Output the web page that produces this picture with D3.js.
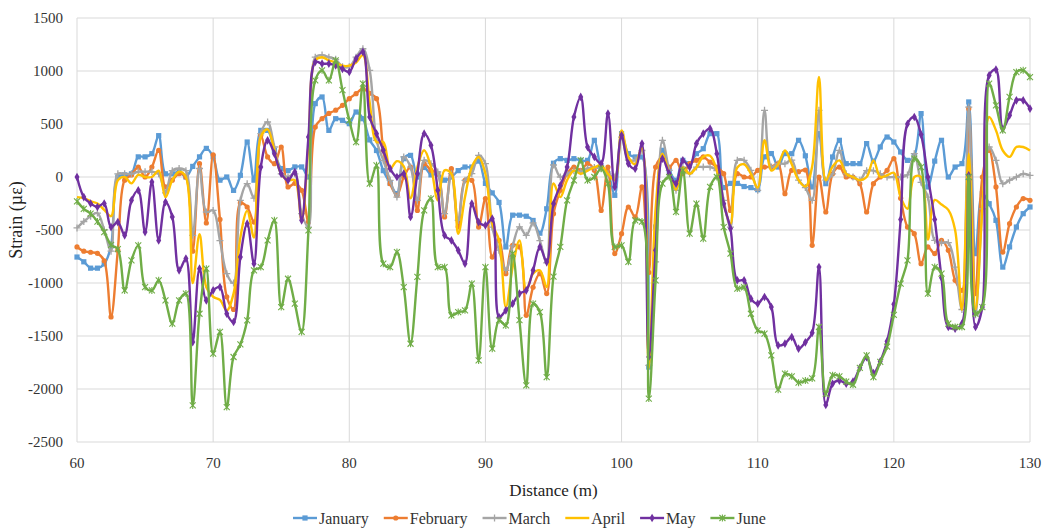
<!DOCTYPE html>
<html>
<head>
<meta charset="utf-8">
<script src="https://cdn.jsdelivr.net/npm/d3@7"></script>
<style>
  body { margin: 0; background: #fff; }
  svg text { font-family: "Liberation Serif", "Times New Roman", Times, "DejaVu Serif", "Noto Serif", serif; }
</style>
</head>
<body>
<div id="chart"></div>
<script>
// --- DATA (0.5 m spacing) ---
const distance = [
  60, 60.5, 61, 61.5, 62, 62.5, 63, 63.5, 64, 64.5,
  65, 65.5, 66, 66.5, 67, 67.5, 68, 68.5, 69, 69.5,
  70, 70.5, 71, 71.5, 72, 72.5, 73, 73.5, 74, 74.5,
  75, 75.5, 76, 76.5, 77, 77.5, 78, 78.5, 79, 79.5,
  80, 80.5, 81, 81.5, 82, 82.5, 83, 83.5, 84, 84.5,
  85, 85.5, 86, 86.5, 87, 87.5, 88, 88.5, 89, 89.5,
  90, 90.5, 91, 91.5, 92, 92.5, 93, 93.5, 94, 94.5,
  95, 95.5, 96, 96.5, 97, 97.5, 98, 98.5, 99, 99.5,
  100, 100.5, 101, 101.5, 102, 102.5, 103, 103.5, 104, 104.5,
  105, 105.5, 106, 106.5, 107, 107.5, 108, 108.5, 109, 109.5,
  110, 110.5, 111, 111.5, 112, 112.5, 113, 113.5, 114, 114.5,
  115, 115.5, 116, 116.5, 117, 117.5, 118, 118.5, 119, 119.5,
  120, 120.5, 121, 121.5, 122, 122.5, 123, 123.5, 124, 124.5,
  125, 125.5, 126, 126.5, 127, 127.5, 128, 128.5, 129, 129.5,
  130
];

const january = [
  -755, -800, -860, -860, -820, -650, 0, 20, 30, 190,
  190, 220, 390, 30, 30, 50, 0, 100, 190, 270,
  190, -30, 0, -126, 16, 330, -30, 440, 440, 250,
  80, 60, 95, 95, 0, 692, 755, 440, 550, 535,
  503, 613, 550, 350, 250, 60, -60, -157, 173, 204,
  0, 90, 20, 30, -30, 0, 60, 94, 94, 150,
  -60, -150, -240, -660, -360, -360, -370, -410, -530, -300,
  130, 173, 157, 173, 157, 157, 346, 94, 31, -173,
  409, 220, 189, 189, -1793, -472, 252, 63, -31, 157,
  126, 220, 267, 409, 409, -100, -60, -60, -90, -100,
  -120, 190, 221, 94, 221, 220, 346, 200, -94, 409,
  -63, 189, 346, 126, 126, 126, 315, 150, 283, 377,
  330, 236, 157, 200, 598, -94, 150, 346, 0, 94,
  126, 708, -723, -157, -252, -409, -850, -660, -472, -346,
  -283
];

const february = [
  -660, -700, -710, -720, -790, -1320, -690, -30, 20, 94,
  0, 94, 252, -94, -30, 31, 0, -700, 126, -434,
  210, -400, -1130, -1250, -245, -283, -425, 393, 189, 126,
  283, -94, -60, -126, -425, 471, 550, 600, 630, 676,
  739, 786, 833, 790, 739, 252, -63, -173, 0, 94,
  -315, 126, 63, 30, -377, 79, -470, -31, -31, -472,
  -204, -755, -598, -912, -645, -660, -1305, -1040, -912, -1100,
  -346, -126, 31, 94, 63, 126, 63, -315, 94, -723,
  -535, -283, -377, -94, -900, 94, 189, 94, 157, 31,
  126, 157, 189, 140, 94, 31, -315, 31, 0, 0,
  63, 94, 94, 126, -157, 63, 50, 66, -645, 0,
  -330, 30, 94, 0, 0, -63, -330, -63, 0, 63,
  173, -200, -472, -535, -818, -660, -723, -598, -692, -975,
  -1069, 645, -1100, 0, 252, -94, -708, -440, -283, -204,
  -220
];

const march = [
  -480, -420, -370, -340, -500, -700, 30, 30, 30, 50,
  50, 50, 30, -150, 60, 80, 60, -550, 80, -330,
  -315, -600, -912, -1000, -220, -63, -200, 409, 519, 283,
  30, 0, 30, -346, -472, 1130, 1150, 1130, 1110, 1040,
  1040, 1130, 1210, 1006, 346, 157, -31, -189, 189, 94,
  -220, 157, 126, 47, -346, 31, -409, -31, 31, 204,
  126, -472, -690, -880, -650, -470, -550, -434, -600, -810,
  113, 0, 30, 60, 50, 80, 90, 80, 30, 0,
  377, 160, 160, 250, -1777, -800, 346, 63, -126, 94,
  31, 94, 94, 94, 60, -220, -472, 157, 157, 63,
  -126, 629, 94, 126, 126, 160, -30, -100, -220, 629,
  -30, 30, 252, 30, 0, -30, 60, 60, 30, 0,
  0, 0, 20, 220, -50, -189, -598, -620, -620, -850,
  -1250, 660, -1300, -300, 283, 157, -63, -30, 0, 30,
  15
];

const april = [
  -190, -200, -230, -250, -310, -370, -30, 0, -60, 20,
  0, 0, 60, -190, -30, 50, 0, -1000, -540, -1040,
  -1130, -1160, -1260, -1100, -570, -320, -570, 380, 450, 250,
  30, -30, -30, -410, 300, 1100, 1130, 1100, 1080, 1050,
  1050, 1080, 1150, 700, 330, 330, 80, 150, 100, -200,
  94, 252, 94, -220, 63, 31, -535, -189, 94, 189,
  31, -440, -598, -1227, -850, -598, -1069, -912, -880, -1038,
  -60, -190, -30, 60, 30, 60, 90, 110, 30, -30,
  440, 190, 120, 280, -1800, -300, 220, 30, -120, 90,
  30, 90, 190, 200, 60, -250, -440, 90, 120, 30,
  -100, 346, 60, 120, 250, 120, -30, -90, 100, 943,
  -30, 100, 157, 30, 0, -30, 0, 157, 0, 16,
  40, -190, -300, 0, 0, -590, -216, -260, -310, -500,
  -1254, 220, -1250, -300, 566, 440, 250, 190, 283, 283,
  250
];

const may = [
  0, -189, -250, -283, -250, -472, -425, -550, -220, -126,
  -519, -47, -598, -236, -377, -880, -770, -1557, -865, -1164,
  -1069, -1038, -1290, -1368, -755, -440, -818, 94, 346, 220,
  31, -31, 47, -409, 377, 1085, 1069, 1069, 1053, 1020,
  991, 1116, 1180, 566, 409, 252, 79, 0, 31, -377,
  31, 409, 299, -126, -550, -598, -692, -818, -252, -425,
  -456, -393, -1321, -1258, -1195, -1100, -1069, -880, -660, -802,
  -252, -80, 94, 566, 755, 283, 189, 126, 598, -94,
  393, 126, 79, 315, -1698, -692, 173, 31, -63, 157,
  94, 315, 409, 456, 220, -252, -487, -975, -975, -1148,
  -1195, -1132, -1227, -1588, -1572, -1510, -1620, -1560, -1470, -850,
  -2150, -1950, -1920, -1950, -1930, -1800, -1700, -1850, -1740, -1550,
  -1200, -400, 500, 566, 400, 0, -400, -950, -1415, -1431,
  -1384, 16, -1415, -1227, 959, 1013, 456, 582, 723, 723,
  645
];

const june = [
  -230, -300, -345, -420, -520, -640, -680, -1070, -786, -645,
  -1038, -1070, -975, -1164, -1384, -1164, -1100, -2155, -1290, -865,
  -1667, -1462, -2170, -1698, -1580, -1352, -880, -850, -598, -409,
  -1227, -960, -1195, -1462, -503, 912, 1006, 912, 1100, 820,
  535, 330, 880, -63, 110, -818, -850, -708, -1038, -1573,
  -943, -315, -204, -850, -850, -1305, -1274, -1258, -1006, -1730,
  -850, -1620, -1352, -1400, -723, -1350, -1965, -1195, -1274, -1887,
  -940, -660, -220, -31, 157, -31, 0, 79, -63, -660,
  -645, -800, -409, -420, -2090, -975, -63, 0, -330, 63,
  -535, -252, -582, -94, 0, -472, -723, -1053, -1040, -1290,
  -1447, -1478, -1683, -2006, -1856, -1880, -1940, -1920, -1900, -1415,
  -2045, -1870, -1880, -1930, -1960, -1800, -1683, -1887, -1745, -1600,
  -1300, -1006, -786, 173, 94, -1100, -850, -912, -1384, -1415,
  -1415, 0, -1290, -1227, 880, 676, 440, 755, 990, 1006,
  943
];

const xTicks = [60, 70, 80, 90, 100, 110, 120, 130];
const yTicks = [1500, 1000, 500, 0, -500, -1000, -1500, -2000, -2500];

const seriesNames = ["January", "February", "March", "April", "May", "June"];
const seriesValues = [january, february, march, april, may, june];
const seriesColors = ["#5b9bd5", "#ed7d31", "#a5a5a5", "#ffc000", "#7030a0", "#70ad47"];
const seriesMarkers = ["square", "circle", "plus", "none", "diamond", "star"];

// --- SETUP ---
const width = 1050, height = 529;
const serif = "'Liberation Serif', 'Times New Roman', Times, 'DejaVu Serif', 'Noto Serif', serif";
const x = d3.scaleLinear().domain([60, 130]).range([77, 1030]);
const y = d3.scaleLinear().domain([-2500, 1500]).range([442, 18]);

const svg = d3.select("#chart").append("svg")
    .attr("width", width).attr("height", height)
    .attr("font-family", serif);

svg.append("rect").attr("width", width).attr("height", height).attr("fill", "#fff");

// grid
svg.append("g").selectAll("line").data(yTicks).join("line")
    .attr("x1", x(60)).attr("x2", x(130))
    .attr("y1", d => y(d)).attr("y2", d => y(d))
    .attr("stroke", "#d9d9d9").attr("stroke-width", 1);
svg.append("g").selectAll("line").data(xTicks).join("line")
    .attr("x1", d => x(d)).attr("x2", d => x(d))
    .attr("y1", y(1500)).attr("y2", y(-2500))
    .attr("stroke", "#d9d9d9").attr("stroke-width", 1);

// tick labels
svg.append("g").selectAll("text").data(yTicks).join("text")
    .attr("x", 63).attr("y", d => y(d)).attr("dy", "0.35em")
    .attr("text-anchor", "end").attr("font-size", 15).attr("fill", "#333")
    .attr("font-family", serif)
    .text(d => d);
svg.append("g").selectAll("text").data(xTicks).join("text")
    .attr("x", d => x(d)).attr("y", 468)
    .attr("text-anchor", "middle").attr("font-size", 15).attr("fill", "#333")
    .attr("font-family", serif)
    .text(d => d);

// axis titles
svg.append("text").attr("x", (x(60) + x(130)) / 2).attr("y", 496)
    .attr("text-anchor", "middle").attr("font-size", 17).attr("fill", "#222")
    .attr("font-family", serif)
    .text("Distance (m)");
svg.append("text").attr("transform", "translate(22,220) rotate(-90)")
    .attr("text-anchor", "middle").attr("font-size", 18).attr("fill", "#222")
    .attr("font-family", serif)
    .text("Strain (µε)");

// marker drawing helper
function drawMarker(sel, type, color) {
    if (type === "square") {
        sel.append("rect").attr("x", -2.6).attr("y", -2.6).attr("width", 5.2).attr("height", 5.2)
            .attr("fill", color);
    } else if (type === "circle") {
        sel.append("circle").attr("r", 2.6).attr("fill", color);
    } else if (type === "diamond") {
        sel.append("path").attr("d", d3.symbol(d3.symbolDiamond, 22)()).attr("fill", color);
    } else if (type === "plus") {
        sel.append("path").attr("d", "M-3.5,0H3.5M0,-3.5V3.5")
            .attr("stroke", color).attr("stroke-width", 1.3).attr("fill", "none");
    } else if (type === "star") {
        sel.append("path").attr("d", "M-3,-3L3,3M-3,3L3,-3M0,-3.5V3.5")
            .attr("stroke", color).attr("stroke-width", 1.1).attr("fill", "none");
    }
}

// --- LINES ---
const line = d3.line()
    .x(d => x(d[0])).y(d => y(d[1]))
    .curve(d3.curveCatmullRom.alpha(0.5));

const plot = svg.append("g");
seriesNames.forEach((name, i) => {
    const pts = distance.map((dv, k) => [dv, seriesValues[i][k]]);
    const g = plot.append("g");
    g.append("path").datum(pts)
        .attr("d", line)
        .attr("fill", "none")
        .attr("stroke", seriesColors[i])
        .attr("stroke-width", 2.4)
        .attr("stroke-linejoin", "round");
    if (seriesMarkers[i] !== "none") {
        g.selectAll("g.m").data(pts).join("g")
            .attr("class", "m")
            .attr("transform", d => `translate(${x(d[0])},${y(d[1])})`)
            .each(function() { drawMarker(d3.select(this), seriesMarkers[i], seriesColors[i]); });
    }
});

// --- LEGEND ---
const legend = svg.append("g").attr("transform", "translate(293,518)");
let lx = 0;
seriesNames.forEach((name, i) => {
    const item = legend.append("g").attr("transform", `translate(${lx},0)`);
    item.append("line").attr("x1", 0).attr("x2", 24).attr("y1", 0).attr("y2", 0)
        .attr("stroke", seriesColors[i]).attr("stroke-width", 2.4);
    if (seriesMarkers[i] !== "none") {
        drawMarker(item.append("g").attr("transform", "translate(12,0)"), seriesMarkers[i], seriesColors[i]);
    }
    const t = item.append("text").attr("x", 26).attr("y", 0).attr("dy", "0.35em")
        .attr("font-size", 16).attr("fill", "#333").attr("font-family", serif).text(name);
    lx += 26 + t.node().getComputedTextLength() + 15;
});
</script>
</body>
</html>
